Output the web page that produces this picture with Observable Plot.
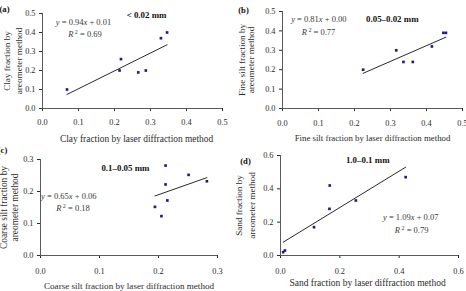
<!DOCTYPE html>
<html>
<head>
<meta charset="utf-8">
<script src="https://cdn.jsdelivr.net/npm/d3@7"></script>
<script src="https://cdn.jsdelivr.net/npm/@observablehq/plot@0.6"></script>
<style>
  body { margin: 0; background: #fff; }
  #fig { position: relative; width: 466px; height: 291px; overflow: hidden; }
  #fig svg { position: absolute; overflow: visible; background: transparent; }
</style>
</head>
<body>
<div id="fig"></div>
<script>
// Panel letters, size classes and fitted lines
const panelTags = ["(a)", "(b)", "(c)", "(d)"];
const fractionNames = ["< 0.02 mm", "0.05–0.02 mm", "0.1–0.05 mm", "1.0–0.1 mm"];
const slopes = [0.94, 0.81, 0.65, 1.09];
const intercepts = [0.01, 0.00, 0.06, 0.07];
const rSquared = [0.69, 0.77, 0.18, 0.79];

// Axis titles
const xTitles = [
  "Clay fraction by laser diffraction method",
  "Fine silt fraction by laser diffraction method",
  "Coarse silt fraction by laser diffraction method",
  "Sand fraction by laser diffraction method"
];
const yTitles = [
  ["Clay fraction by", "areometer method"],
  ["Fine silt fraction by", "areometer method"],
  ["Coarse silt fraction by", "areometer method"],
  ["Sand fraction by", "areometer method"]
];

// Tick values
const ticksA = [0, 0.1, 0.2, 0.3, 0.4, 0.5];
const ticksB = [0, 0.1, 0.2, 0.3, 0.4, 0.5];
const ticksC = [0, 0.1, 0.2, 0.3];
const ticksD = [0, 0.2, 0.4, 0.6];

// Measured fractions: laser diffraction (x) vs areometer (y)
const clayLaser = [0.068, 0.214, 0.218, 0.266, 0.287, 0.329, 0.346];
const clayAreo  = [0.10, 0.20, 0.26, 0.19, 0.20, 0.37, 0.40];
const fineLaser = [0.224, 0.316, 0.336, 0.362, 0.415, 0.447, 0.454];
const fineAreo  = [0.20, 0.30, 0.24, 0.24, 0.32, 0.39, 0.39];
const coarseLaser = [0.194, 0.205, 0.212, 0.212, 0.215, 0.251, 0.282];
const coarseAreo  = [0.152, 0.123, 0.281, 0.222, 0.172, 0.252, 0.232];
const sandLaser = [0.009, 0.015, 0.113, 0.165, 0.166, 0.254, 0.422];
const sandAreo  = [0.02, 0.03, 0.17, 0.28, 0.42, 0.33, 0.47];

const FONT = "Liberation Serif, Times New Roman, serif";
const TEXT = "#2b2b2b";
const AXIS = "#5a5a5a";
const DOT = "#1c1c7a";

// Layout of each panel: SVG placement, margins and annotation anchors (data units)
const layouts = [
  {left: 0, top: 0, w: 233, h: 145, m: [13, 11, 37, 42], ticks: ticksA,
   xs: clayLaser, ys: clayAreo,
   tag: {dx: -38, dy: -4.7}, name: [0.289, 0.491], eq: [0.114, 0.454], r2: [0.118, 0.39],
   yt: [-35.7, -23.3], ytSize: 9.2, xt: {dx: 4, dy: 30, size: 9.4}, pad: 8},
  {left: 233, top: 0, w: 233, h: 145, m: [11, 4, 37, 49], ticks: ticksB,
   xs: fineLaser, ys: fineAreo,
   tag: {dx: -39, dy: -1}, name: [0.305, 0.462], eq: [0.101, 0.462], r2: [0.100, 0.393],
   yt: [-40, -31.3], ytSize: 9.2, xt: {dx: 0, dy: 30, size: 8.8}, pad: 8.5},
  {left: 0, top: 145, w: 233, h: 146, m: [14, 16, 36, 40], ticks: ticksC,
   xs: coarseLaser, ys: coarseAreo,
   tag: {dx: -38, dy: -9}, name: [0.144, 0.273], eq: [0.048, 0.185], r2: [0.055, 0.148],
   yt: [-36.5, -26], ytSize: 9.4, xt: {dx: 0, dy: 30.6, size: 9.1}, pad: 9.5},
  {left: 233, top: 145, w: 233, h: 146, m: [10, 8, 36, 47], ticks: ticksD,
   xs: sandLaser, ys: sandAreo,
   tag: {dx: -35, dy: 6}, name: [0.294, 0.57], eq: [0.439, 0.23], r2: [0.442, 0.15],
   yt: [-41, -28.7], ytSize: 9.2, xt: {dx: -2, dy: 27.7, size: 9.5}, pad: 9.5}
];

const fig = document.getElementById("fig");
const fmt = d3.format(".1f");

layouts.forEach((L, i) => {
  const pts = L.xs.map((x, k) => ({x, y: L.ys[k]}));
  const x0 = d3.min(L.xs), x1 = d3.max(L.xs);
  const fit = [x0, x1].map(x => ({x, y: slopes[i] * x + intercepts[i]}));
  const dom = [0, L.ticks[L.ticks.length - 1]];
  const eqText = `y = ${slopes[i].toFixed(2)}x + ${intercepts[i].toFixed(2)}`;
  const r2Text = `R2 = ${rSquared[i].toFixed(2)}`;

  const svg = Plot.plot({
    width: L.w, height: L.h,
    marginTop: L.m[0], marginRight: L.m[1], marginBottom: L.m[2], marginLeft: L.m[3],
    style: {fontFamily: FONT, fontSize: "8.3px", color: TEXT, background: "transparent", overflow: "visible"},
    x: {domain: dom, ticks: L.ticks, tickFormat: fmt, tickSize: 3, tickPadding: L.pad, label: null},
    y: {domain: dom, ticks: L.ticks, tickFormat: fmt, tickSize: 3, tickPadding: 4, label: null},
    marks: [
      Plot.ruleY([0], {stroke: AXIS, strokeWidth: 1}),
      Plot.ruleX([0], {stroke: AXIS, strokeWidth: 1}),
      Plot.line(fit, {x: "x", y: "y", stroke: "#111", strokeWidth: 0.9}),
      Plot.dot(pts, {x: "x", y: "y", symbol: "square", r: 1.5, fill: DOT, stroke: "none"}),
      Plot.text([panelTags[i]], {frameAnchor: "top-left", dx: L.tag.dx, dy: L.tag.dy, text: d => d,
        fontWeight: "bold", fontSize: 8.6, fill: "#111", textAnchor: "middle", lineAnchor: "middle"}),
      Plot.text([fractionNames[i]], {x: () => L.name[0], y: () => L.name[1], text: d => d,
        fontWeight: "bold", fontSize: 8.9, fill: "#111"}),
      Plot.text([eqText], {x: () => L.eq[0], y: () => L.eq[1], text: d => d, fontSize: 8.5, fill: "#3a3a3a"}),
      Plot.text([r2Text], {x: () => L.r2[0], y: () => L.r2[1], text: d => d, fontSize: 8.5, fill: "#3a3a3a"}),
      Plot.text([yTitles[i][0]], {frameAnchor: "left", dx: L.yt[0], rotate: -90, text: d => d,
        textAnchor: "middle", lineAnchor: "middle", fontSize: L.ytSize, fill: TEXT}),
      Plot.text([yTitles[i][1]], {frameAnchor: "left", dx: L.yt[1], rotate: -90, text: d => d,
        textAnchor: "middle", lineAnchor: "middle", fontSize: L.ytSize, fill: TEXT}),
      Plot.text([xTitles[i]], {frameAnchor: "bottom", dx: L.xt.dx, dy: L.xt.dy, text: d => d,
        textAnchor: "middle", lineAnchor: "middle", fontSize: L.xt.size, fill: TEXT})
    ]
  });
  svg.style.left = L.left + "px";
  svg.style.top = L.top + "px";

  // Italic variables and superscript in the regression annotations
  svg.querySelectorAll("text").forEach(t => {
    const s = t.textContent;
    let m;
    if ((m = s.match(/^y = (\S+)x \+ (\S+)$/))) {
      t.innerHTML = `<tspan font-style="italic">y</tspan> = ${m[1]}<tspan font-style="italic">x</tspan> + ${m[2]}`;
    } else if ((m = s.match(/^R2 = (\S+)$/))) {
      t.innerHTML = `<tspan font-style="italic">R</tspan><tspan dx="1.5" dy="-3" font-size="6">2</tspan><tspan dy="3"> = ${m[1]}</tspan>`;
    }
  });
  fig.appendChild(svg);
});
</script>
</body>
</html>
